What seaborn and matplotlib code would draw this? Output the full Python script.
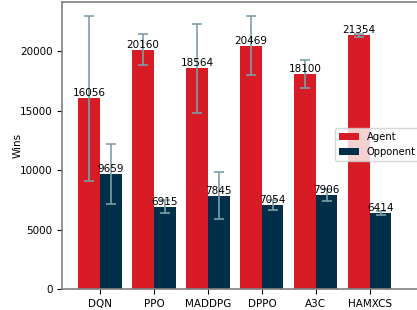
import matplotlib
matplotlib.use("Agg")
import matplotlib.pyplot as plt
import numpy as np
import pandas as pd
import seaborn as sns

algorithms = ["DQN", "PPO", "MADDPG", "DPPO", "A3C", "HAMXCS"]
agent_wins = [16056, 20160, 18564, 20469, 18100, 21354]
opponent_wins = [9659, 6915, 7845, 7054, 7906, 6414]
agent_std = [6970, 1300, 3720, 2480, 1180, 120]
opponent_std = [2530, 550, 1990, 400, 530, 180]

AGENT_COLOR = "#d71c25"
OPP_COLOR = "#003049"
ERR_COLOR = "#7e9ea9"

df = pd.DataFrame({
    "algorithm": algorithms * 2,
    "wins": agent_wins + opponent_wins,
    "std": agent_std + opponent_std,
    "side": ["Agent"] * len(algorithms) + ["Opponent"] * len(algorithms),
})

plt.rcParams["font.size"] = 7.5
fig = plt.figure(figsize=(4.17, 3.10), dpi=100)
ax = fig.add_axes([0.149, 0.068, 0.861, 0.925])

sns.barplot(
    data=df, x="algorithm", y="wins", hue="side",
    palette=[AGENT_COLOR, OPP_COLOR], errorbar=None, width=0.8,
    saturation=1, ax=ax,
)

for container, side in zip(ax.containers, ["Agent", "Opponent"]):
    sub = df[df["side"] == side]
    xs = [p.get_x() + p.get_width() / 2 for p in container]
    ax.errorbar(xs, sub["wins"], yerr=sub["std"], fmt="none",
                ecolor=ERR_COLOR, elinewidth=1.2, capsize=3.5, capthick=1.2, zorder=3)
    for x, v in zip(xs, sub["wins"]):
        ax.text(x, v, f"{v}", ha="center", va="bottom", fontsize=7.5, zorder=4)

ax.set_xlim(-0.7, 5.95)
ax.set_ylim(0, 24150)
ax.set_yticks([0, 5000, 10000, 15000, 20000])
ax.set_xlabel("")
ax.set_ylabel("Wins")
ax.yaxis.set_label_coords(-0.111, 0.5)
for s in ax.spines.values():
    s.set_color("#808080")
    s.set_linewidth(1.2)
ax.legend(loc="center right", bbox_to_anchor=(1.01, 0.505), fontsize=7.2)

fig.savefig("out.png", dpi=100)
